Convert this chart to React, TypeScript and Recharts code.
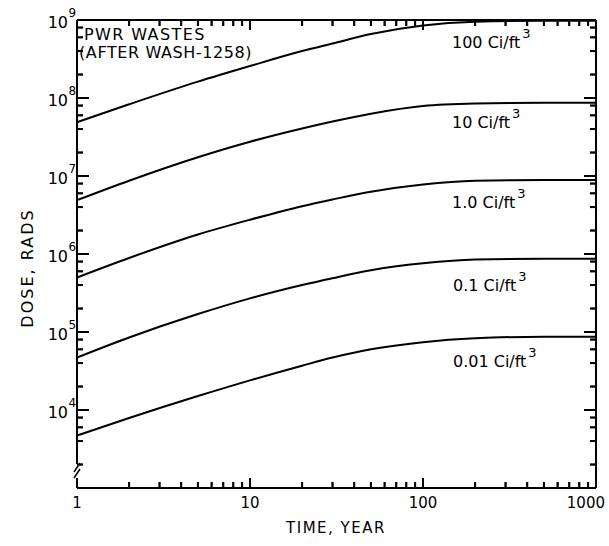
import React from 'react';
import { LineChart, Line, XAxis, YAxis } from 'recharts';

// time in years (log axis)
const times = [1, 2, 5, 10, 20, 30, 50, 100, 200, 500, 1000];

// dose in rads for each waste concentration
const dose100 = [4.9e7, 8.3e7, 1.62e8, 2.57e8, 4.0e8, 5.0e8, 6.6e8, 8.5e8, 9.5e8, 9.8e8, 9.8e8];
const dose10 = [4.9e6, 8.7e6, 1.74e7, 2.75e7, 4.07e7, 5.0e7, 6.3e7, 7.9e7, 8.5e7, 8.7e7, 8.7e7];
const dose1 = [5.0e5, 8.9e5, 1.78e6, 2.75e6, 4.1e6, 5.0e6, 6.3e6, 7.8e6, 8.7e6, 8.9e6, 8.9e6];
const dose01 = [4.7e4, 8.5e4, 1.7e5, 2.7e5, 4.0e5, 4.9e5, 6.2e5, 7.6e5, 8.5e5, 8.7e5, 8.7e5];
const dose001 = [4.7e3, 7.9e3, 1.51e4, 2.4e4, 3.7e4, 4.7e4, 6.0e4, 7.4e4, 8.3e4, 8.7e4, 8.7e4];

const curveLabels = ['100 Ci/ft', '10 Ci/ft', '1.0 Ci/ft', '0.1 Ci/ft', '0.01 Ci/ft'];

const xTicks = [1, 2, 3, 4, 5, 6, 7, 8, 9, 10, 20, 30, 40, 50, 60, 70, 80, 90, 100, 200, 300, 400, 500, 600, 700, 800, 900, 1000];
const xMajor = [1, 10, 100, 1000];
const yTicks = [
  1e3, 2e3, 4e3, 6e3, 8e3, 1e4, 2e4, 4e4, 6e4, 8e4, 1e5, 2e5, 4e5, 6e5, 8e5,
  1e6, 2e6, 4e6, 6e6, 8e6, 1e7, 2e7, 4e7, 6e7, 8e7, 1e8, 2e8, 4e8, 6e8, 8e8, 1e9,
];
const yMajor = [1e3, 1e4, 1e5, 1e6, 1e7, 1e8, 1e9];

const data = times.map((t, i) => ({
  t,
  c100: dose100[i],
  c10: dose10[i],
  c1: dose1[i],
  c01: dose01[i],
  c001: dose001[i],
}));

const FONT = '"DejaVu Sans", sans-serif';

// tick mark: a grey stroke under a black one
const Mark = ({ d }: { d: string }) => (
  <g>
    <path d={d} stroke="#4d4d66" strokeWidth={2} fill="none" />
    <path d={d} stroke="#000" strokeWidth={2} fill="none" />
  </g>
);

const BottomTick = (p: any) => {
  const { x, y } = p;
  const v = p.payload.value;
  const major = xMajor.includes(v);
  const len = major ? 10 : 6;
  return (
    <g>
      <Mark d={`M${x},${y} L${x},${y - len}`} />
      {major && (
        <text
          x={v === 1000 ? x + 9 : x}
          y={y + 20}
          textAnchor={v === 1000 ? 'end' : 'middle'}
          fontSize={15}
          fontFamily={FONT}
          fill="#000"
        >
          {v}
        </text>
      )}
    </g>
  );
};

const TopTick = (p: any) => {
  const len = xMajor.includes(p.payload.value) ? 10 : 6;
  return <Mark d={`M${p.x},${p.y} L${p.x},${p.y + len}`} />;
};

const LeftTick = (p: any) => {
  const { x, y } = p;
  const v = p.payload.value;
  const major = yMajor.includes(v);
  const exp = Math.round(Math.log10(v));
  const len = major ? 12 : 6;
  return (
    <g>
      {v > 1e3 && <Mark d={`M${x},${y} L${x + len},${y}`} />}
      {major && v > 1e3 && (
        <g fontFamily={FONT} fill="#000">
          <text x={x - 9} y={y + 8} textAnchor="end" fontSize={16}>10</text>
          <text x={x - 8.5} y={y - 3} fontSize={12}>{exp}</text>
        </g>
      )}
      {v === 1e3 && (
        <g>
          <rect x={x - 3} y={y - 24} width={6} height={14} fill="#fff" />
          <path
            d={`M${x + 3},${y - 25} L${x - 3},${y - 16} M${x + 3},${y - 19} L${x - 3},${y - 10}`}
            stroke="#000"
            strokeWidth={1.5}
            fill="none"
          />
        </g>
      )}
    </g>
  );
};

const RightTick = (p: any) => {
  const len = yMajor.includes(p.payload.value) ? 12 : 6;
  return <Mark d={`M${p.x},${p.y} L${p.x - len},${p.y}`} />;
};

const labelPos = [
  { x: 452, y: 48 },
  { x: 452, y: 128 },
  { x: 452, y: 208 },
  { x: 453, y: 291 },
  { x: 453, y: 367 },
];

const App = () => {
  const lineProps = {
    type: 'monotone' as const,
    stroke: '#000',
    strokeWidth: 2,
    dot: false,
    isAnimationActive: false,
  };
  return (
    <div style={{ position: 'absolute', left: 0, top: 0, width: 609, height: 546, background: '#fff' }}>
      <svg
        width={609}
        height={546}
        style={{ position: 'absolute', left: 0, top: 0 }}
        fontFamily={FONT}
        fill="#000"
      >
        <text x={84} y={40} fontSize={16} letterSpacing={1.4}>PWR WASTES</text>
        <text x={79} y={58} fontSize={16} letterSpacing={0.6}>(AFTER WASH-1258)</text>
        {curveLabels.map((lab, i) => (
          <text key={lab} x={labelPos[i].x} y={labelPos[i].y} fontSize={16}>
            {lab}
            <tspan dx={2} dy={-10} fontSize={13}>3</tspan>
          </text>
        ))}
        <text x={336} y={533} textAnchor="middle" fontSize={15} letterSpacing={1.5}>TIME, YEAR</text>
        <text transform="translate(33,268) rotate(-90)" textAnchor="middle" fontSize={16} letterSpacing={2}>
          DOSE, RADS
        </text>
      </svg>
      <LineChart width={609} height={546} data={data} margin={{ top: 19, right: 12, bottom: 0, left: 0 }}>
        <XAxis
          dataKey="t"
          type="number"
          scale="log"
          domain={[1, 1000]}
          ticks={xTicks}
          interval={0}
          height={58}
          axisLine={{ stroke: '#000', strokeWidth: 2 }}
          tickLine={false}
          tickSize={0}
          tickMargin={0}
          tick={(p: any) => <BottomTick {...p} />}
          allowDataOverflow
        />
        <XAxis
          xAxisId="top"
          orientation="top"
          dataKey="t"
          type="number"
          scale="log"
          domain={[1, 1000]}
          ticks={xTicks}
          interval={0}
          height={1}
          axisLine={{ stroke: '#000', strokeWidth: 2 }}
          tickLine={false}
          tickSize={0}
          tickMargin={0}
          tick={(p: any) => <TopTick {...p} />}
          allowDataOverflow
        />
        <YAxis
          type="number"
          scale="log"
          domain={[1e3, 1e9]}
          ticks={yTicks}
          interval={0}
          width={77}
          stroke="#000"
          strokeWidth={2}
          tickLine={false}
          tickSize={0}
          tickMargin={0}
          tick={(p: any) => <LeftTick {...p} />}
          allowDataOverflow
        />
        <YAxis
          yAxisId="right"
          orientation="right"
          type="number"
          scale="log"
          domain={[1e3, 1e9]}
          ticks={yTicks}
          interval={0}
          width={1}
          stroke="#000"
          strokeWidth={2}
          tickLine={false}
          tickSize={0}
          tickMargin={0}
          tick={(p: any) => <RightTick {...p} />}
          allowDataOverflow
        />
        <Line dataKey="c100" {...lineProps} />
        <Line dataKey="c10" {...lineProps} />
        <Line dataKey="c1" {...lineProps} />
        <Line dataKey="c01" {...lineProps} />
        <Line dataKey="c001" {...lineProps} />
      </LineChart>
    </div>
  );
};

export default App;
